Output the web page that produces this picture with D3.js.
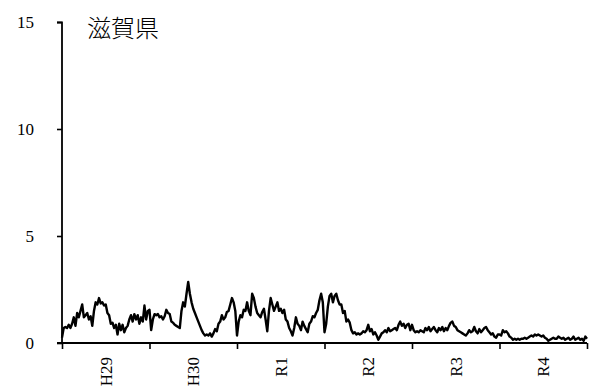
<!DOCTYPE html>
<html><head><meta charset="utf-8">
<script src="https://cdn.jsdelivr.net/npm/d3@7"></script>
<style>
html,body{margin:0;padding:0;background:#fff;}
svg{display:block;}
</style></head>
<body><svg id="c" width="595" height="390"></svg>
<script>
const title = "滋賀県";
const yearLabels = ["H29","H30","R1","R2","R3","R4"];
const yTicks = [0,5,10,15];
const weeksPerYear = 52;
const valuesH29 = [0.25,0.7,0.75,0.7,0.85,0.7,0.9,1.2,0.8,1.4,1.2,1.5,1.8,1.2,1.3,1.4,1.1,1.25,0.8,1.5,1.9,1.8,2.1,1.85,1.9,1.75,1.8,1.4,1.3,0.9,0.95,0.7,0.85,0.4,0.9,0.6,0.85,0.5,0.7,0.8,1.1,1.3,1.0,1.35,1.1,1.3,0.9,1.2,1.0,1.75,1.1,1.5];
const valuesH30 = [1.55,0.6,1.1,1.35,1.3,1.35,1.2,1.25,1.1,1.25,1.55,1.4,1.35,1.0,0.95,0.85,0.8,0.75,0.7,1.5,1.9,1.7,2.3,2.85,2.3,1.9,1.6,1.4,1.2,1.0,0.8,0.6,0.45,0.35,0.4,0.35,0.45,0.3,0.45,0.65,0.55,0.9,1.0,1.3,1.1,1.2,1.45,1.5,1.8,2.1,1.9,1.5];
const valuesR1 = [0.35,1.0,1.3,1.2,1.55,1.5,1.9,1.5,1.3,2.3,2.1,1.7,1.4,1.3,1.2,1.45,1.6,1.1,0.55,1.5,2.1,1.8,1.5,1.7,1.9,1.5,1.6,1.4,1.55,1.1,1.0,0.7,0.55,0.35,0.7,1.2,0.9,0.8,0.6,1.0,0.8,0.65,0.5,0.9,1.0,1.25,1.2,1.4,1.55,2.0,2.3,1.9];
const valuesR2 = [0.5,0.9,1.7,2.2,2.3,1.9,2.2,2.3,2.0,1.8,1.8,1.4,1.5,1.0,1.1,0.95,0.6,0.45,0.5,0.4,0.45,0.4,0.45,0.55,0.5,0.6,0.85,0.55,0.65,0.4,0.5,0.35,0.15,0.3,0.45,0.5,0.6,0.5,0.7,0.55,0.6,0.65,0.7,0.6,0.85,1.0,0.8,0.9,0.7,0.85,0.9,0.6];
const valuesR3 = [0.85,0.6,0.5,0.55,0.5,0.6,0.55,0.5,0.7,0.6,0.75,0.55,0.65,0.75,0.6,0.5,0.7,0.6,0.75,0.55,0.7,0.6,0.8,0.95,1.0,0.8,0.75,0.6,0.55,0.5,0.45,0.4,0.35,0.45,0.6,0.5,0.55,0.75,0.55,0.45,0.65,0.5,0.6,0.7,0.75,0.6,0.5,0.4,0.45,0.3,0.25,0.4];
const valuesR4 = [0.4,0.35,0.6,0.5,0.55,0.45,0.3,0.25,0.15,0.2,0.15,0.2,0.15,0.2,0.2,0.25,0.2,0.25,0.3,0.35,0.3,0.4,0.35,0.4,0.35,0.3,0.35,0.25,0.2,0.1,0.15,0.2,0.25,0.2,0.2,0.3,0.25,0.2,0.25,0.15,0.2,0.25,0.15,0.2,0.3,0.15,0.2,0.25,0.15,0.2,0.1,0.3,0.2];

const values = [].concat(valuesH29,valuesH30,valuesR1,valuesR2,valuesR3,valuesR4);
const nWeeks = weeksPerYear*yearLabels.length;
const serif = "'Liberation Serif', serif";

const svg = d3.select("#c");
const x = d3.scaleLinear().domain([0,nWeeks]).range([62,587]);
const y = d3.scaleLinear().domain([0,15]).range([343,22]);

// y axis
const yAxis = d3.axisLeft(y).tickValues(yTicks).tickSize(5).tickPadding(23).tickFormat(d3.format("d"));
const gy = svg.append("g").attr("transform","translate(62,0)").call(yAxis);
gy.attr("font-family",null);
gy.select(".domain").attr("stroke","#000").attr("stroke-width",1.8).attr("d","M-5,22.5H0V343");
gy.selectAll(".tick line").attr("stroke","#000").attr("stroke-width",1.6);
gy.selectAll(".tick text").style("font-size","17px").attr("fill","#000").style("font-family",serif);

// x axis
const tickWeeks = d3.range(0,nWeeks+1,weeksPerYear);
const xAxis = d3.axisBottom(x).tickValues(tickWeeks).tickSize(6).tickFormat("");
const gx = svg.append("g").attr("transform","translate(0,343)").call(xAxis);
gx.select(".domain").attr("stroke","#000").attr("stroke-width",1.8).attr("d","M57,0H587");
gx.selectAll(".tick line").attr("stroke","#000").attr("stroke-width",1.6);

// year labels
svg.append("g").selectAll("text").data(yearLabels).join("text")
  .attr("transform",(d,i)=>`translate(${x(i*weeksPerYear+weeksPerYear/2)},357) rotate(-90)`)
  .attr("text-anchor","end").attr("dy","0.35em")
  .style("font-size","17px").attr("fill","#000")
  .style("font-family",serif)
  .text(d=>d);

// line
const line = d3.line().x((d,i)=>x(i)).y(d=>y(d));
svg.append("path").datum(values).attr("d",line)
  .attr("fill","none").attr("stroke","#000").attr("stroke-width",2.4).attr("stroke-linejoin","round");

// title
svg.append("text").attr("x",87).attr("y",37)
  .style("font-size","24px").style("font-family","'Noto Sans CJK JP', sans-serif").style("font-weight","300")
  .attr("fill","#000").text(title);
</script></body></html>
